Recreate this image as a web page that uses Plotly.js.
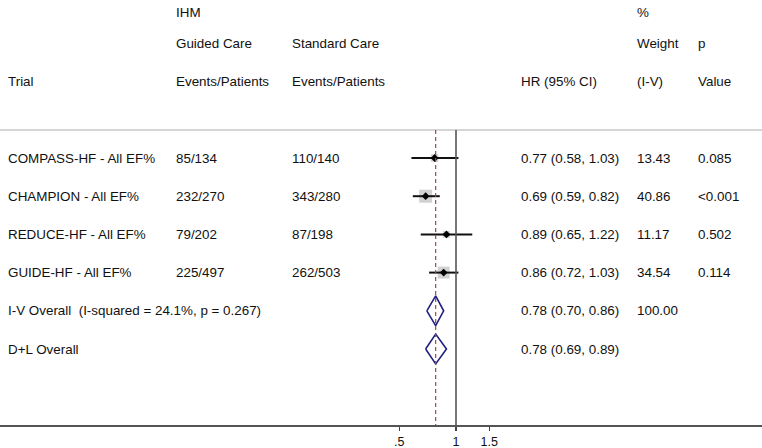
<!DOCTYPE html>
<html>
<head>
<meta charset="utf-8">
<script src="https://cdn.plot.ly/plotly-3.0.1.min.js"></script>
<style>html,body{margin:0;padding:0;background:#fff;}#chart{width:762px;height:448px;}</style>
</head>
<body>
<div id="chart"></div>
<script>
// ---- data ----
var trials = ["COMPASS-HF - All EF%", "CHAMPION - All EF%", "REDUCE-HF - All EF%", "GUIDE-HF - All EF%"];
var guided = ["85/134", "232/270", "79/202", "225/497"];
var standard = ["110/140", "343/280", "87/198", "262/503"];
var hr = [0.77, 0.69, 0.89, 0.86];
var lo = [0.58, 0.59, 0.65, 0.72];
var hi = [1.03, 0.82, 1.22, 1.03];
var weight = [13.43, 40.86, 11.17, 34.54];
var pval = ["0.085", "<0.001", "0.502", "0.114"];

var overallLabels = ["I-V Overall  (I-squared = 24.1%, p = 0.267)", "D+L Overall"];
var overallHR = [0.78, 0.78];
var overallLo = [0.70, 0.69];
var overallHi = [0.86, 0.89];
var overallWeight = ["100.00", ""];

var headerRows = [
  ["", "IHM", "", "", "%", ""],
  ["", "Guided Care", "Standard Care", "", "Weight", "p"],
  ["Trial", "Events/Patients", "Events/Patients", "HR (95% CI)", "(I-V)", "Value"]
];
var tickVals = [0.5, 1, 1.5];
var tickText = [".5", "1", "1.5"];

// ---- layout helpers ----
var W = 762;
var colX = [6, 174, 290, 519, 635, 696];
var headerY = [-3.82, -3.0, -2.0];
var FONT = "Liberation Sans, Arial, Helvetica, sans-serif";
var fs = 13.4;
function fmt(v){ return v.toFixed(2); }

var annotations = [];
function addText(col, row, txt){
  if (!txt) return;
  annotations.push({x: colX[col]/W, xref: "paper", y: row, yref: "y", text: txt,
    showarrow: false, xanchor: "left", yanchor: "middle",
    font: {family: FONT, size: fs, color: "#111"}});
}
headerRows.forEach(function(r, i){ r.forEach(function(t, c){ addText(c, headerY[i], t); }); });
trials.forEach(function(t, i){
  addText(0, i, t); addText(1, i, guided[i]); addText(2, i, standard[i]);
  addText(3, i, fmt(hr[i]) + " (" + fmt(lo[i]) + ", " + fmt(hi[i]) + ")");
  addText(4, i, weight[i].toFixed(2)); addText(5, i, pval[i]);
});
overallLabels.forEach(function(t, j){
  var r = trials.length + j;
  addText(0, r, t);
  addText(3, r, fmt(overallHR[j]) + " (" + fmt(overallLo[j]) + ", " + fmt(overallHi[j]) + ")");
  addText(4, r, overallWeight[j]);
});

var rows = trials.map(function(_, i){ return i; });
var traces = [];
// weight boxes
traces.push({type: "scatter", mode: "markers", x: hr, y: rows, hoverinfo: "skip",
  marker: {symbol: "square", color: "#bdbdbd", size: weight.map(function(w){ return 2.03*Math.sqrt(w); }), line: {width: 0}}});
// CI lines
rows.forEach(function(r){
  traces.push({type: "scatter", mode: "lines", x: [lo[r], hi[r]], y: [r, r], hoverinfo: "skip",
    line: {color: "#111", width: 2}});
});
// point estimates
traces.push({type: "scatter", mode: "markers", x: hr, y: rows, hoverinfo: "skip",
  marker: {symbol: "diamond", color: "#000", size: 6}});
// overall diamonds
var hh = 0.39;
overallHR.forEach(function(e, j){
  var r = trials.length + j;
  traces.push({type: "scatter", mode: "lines", hoverinfo: "skip",
    x: [overallLo[j], e, overallHi[j], e, overallLo[j]],
    y: [r, r - hh, r, r + hh, r],
    line: {color: "#1f1f80", width: 1.6}});
});

var yTop = -158/38.2, yBot = 267/38.2, ySep = -28/38.2;
var layout = {
  width: 762, height: 448,
  margin: {l: 0, r: 0, t: 0, b: 23},
  paper_bgcolor: "#fff", plot_bgcolor: "#fff",
  showlegend: false,
  font: {family: FONT, size: fs, color: "#111"},
  xaxis: {type: "log", range: [-456/188.4, 306/188.4], showgrid: false, zeroline: false,
    tickvals: tickVals, ticktext: tickText, ticks: "outside", ticklen: 4, tickwidth: 1.2,
    tickcolor: "#444", showline: true, linecolor: "#555", linewidth: 1.6,
    tickfont: {family: FONT, size: 12.5, color: "#111"}, fixedrange: true},
  yaxis: {range: [yBot, yTop], showgrid: false, zeroline: false, showticklabels: false,
    ticks: "", showline: false, fixedrange: true},
  shapes: [
    {type: "line", xref: "paper", x0: 0, x1: 1, yref: "y", y0: ySep, y1: ySep,
      line: {color: "#c8c8c8", width: 1.5}},
    {type: "line", xref: "x", x0: 1, x1: 1, yref: "y", y0: ySep, y1: yBot,
      line: {color: "#555", width: 1.6}},
    {type: "line", xref: "x", x0: overallHR[0], x1: overallHR[0], yref: "y", y0: ySep, y1: yBot,
      line: {color: "#9c4a4a", width: 1.2, dash: "4px,3px"}}
  ],
  annotations: annotations
};
Plotly.newPlot("chart", traces, layout, {displayModeBar: false, staticPlot: true});
</script>
</body>
</html>
